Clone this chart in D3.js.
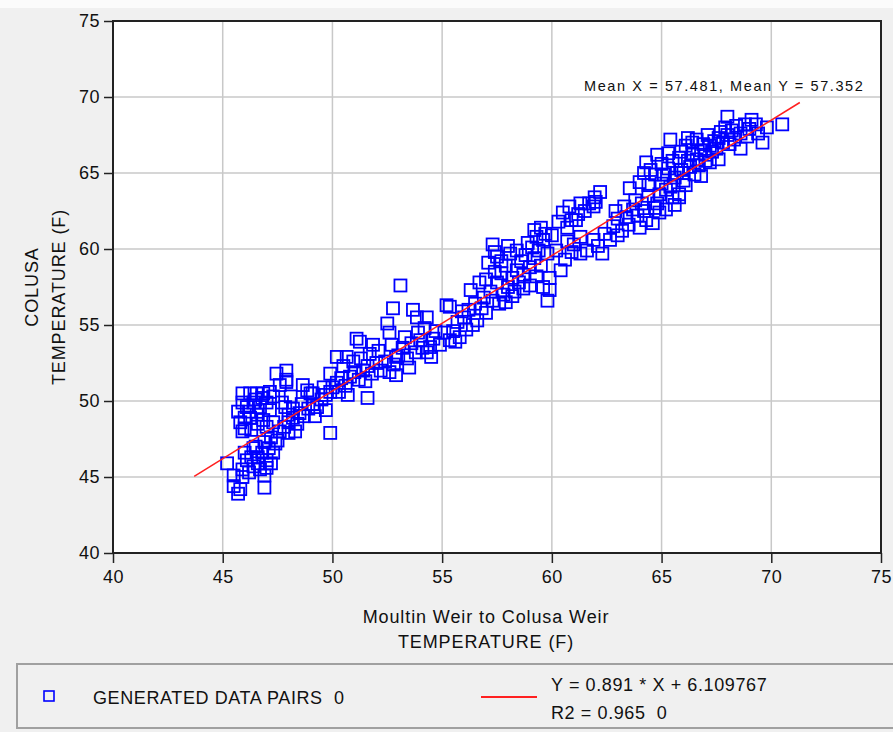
<!DOCTYPE html>
<html>
<head>
<meta charset="utf-8">
<script src="https://cdn.jsdelivr.net/npm/d3@7"></script>
<style>
  html, body { margin: 0; padding: 0; background: #f0f0f0; }
  svg { display: block; }
  text { font-family: "Liberation Sans", Arial, sans-serif; fill: #111; white-space: pre; }
</style>
</head>
<body>
<svg id="chart" width="893" height="732"></svg>
<script>
// ---- Data ----
const xTicks = [40, 45, 50, 55, 60, 65, 70, 75];
const yTicks = [40, 45, 50, 55, 60, 65, 70, 75];
const xTitle = ["Moultin Weir to Colusa Weir", "TEMPERATURE (F)"];
const yTitle = ["COLUSA", "TEMPERATURE (F)"];
const meanLabel = "Mean X = 57.481, Mean Y = 57.352";
const legendSeries = "GENERATED DATA PAIRS  0";
const legendFit = ["Y = 0.891 * X + 6.109767", "R2 = 0.965  0"];
const fitSlope = 0.891;
const fitIntercept = 6.109767;
const fitXRange = [43.7, 71.3];

const lowLeft = [[45.2,45.9],[45.5,44.4],[45.7,43.9],[45.8,44.2],[45.5,45.1],[45.9,45.5],[46.1,46.1],[46.4,45.7],[46.9,44.3],[46.9,45.1],[46.5,47.0],[46.8,46.6],[47.0,46.1],[47.2,45.9],[47.3,46.6],[47.4,47.2],[47.5,47.4],[47.6,48.0],[46.3,46.3],[46.6,46.3],[46.2,45.3],[46.7,45.5],[47.1,46.9],[46.0,46.6],[46.4,46.9],[47.2,47.6],[46.9,47.3],[46.6,45.9],[47.0,45.6],[45.9,45.0]];
const upperLeft = [[45.9,50.5],[46.25,50.5],[46.55,50.5],[46.85,50.5],[47.15,50.6],[45.9,49.9],[46.1,49.6],[46.4,49.9],[46.7,49.6],[47.0,49.9],[45.8,48.6],[46.0,48.9],[46.25,48.9],[46.55,49.1],[46.85,48.75],[46.0,48.2],[46.3,48.1],[47.45,51.8],[47.9,51.25],[47.6,51.05],[47.3,50.3],[47.15,49.4],[47.3,48.6],[47.85,49.6],[48.0,49.1],[45.7,49.3],[46.2,49.3],[46.6,48.5],[47.0,48.3],[46.5,50.1],[45.9,48.0],[46.8,50.2]];
const band48 = [[47.8,48.3],[48.0,48.6],[48.2,48.9],[48.4,48.5],[48.5,49.2],[48.7,49.0],[48.9,49.5],[49.1,49.8],[49.3,49.6],[49.5,50.1],[49.7,50.4],[49.9,50.6],[48.2,49.5],[48.6,49.8],[49.0,50.5],[48.65,51.05],[48.85,50.7],[49.1,50.5],[47.9,52.0],[47.9,51.4],[49.9,47.9],[49.7,49.4],[48.0,47.9],[48.3,48.0],[49.2,49.0],[49.6,50.9],[47.7,49.9],[48.1,50.3]];
const band50 = [[49.9,51.8],[50.2,51.2],[50.4,51.5],[50.6,51.0],[50.8,51.6],[51.0,51.9],[51.2,51.4],[51.4,52.0],[51.6,52.3],[51.8,51.8],[52.0,52.5],[52.2,52.0],[50.2,52.9],[50.65,52.9],[50.95,52.6],[50.3,50.6],[50.7,50.4],[51.1,54.1],[51.25,53.9],[51.85,53.7],[51.6,50.2],[51.3,52.8],[51.7,53.1],[52.1,53.3],[50.0,50.9],[50.5,52.3],[51.5,51.3],[52.4,52.6],[52.6,51.9],[52.9,51.7],[52.8,52.4]];
const band53 = [[52.76,56.1],[53.67,56.0],[53.85,55.5],[52.5,55.1],[52.6,54.5],[53.1,57.6],[54.3,55.5],[53.0,53.0],[53.2,53.5],[53.4,52.8],[53.6,53.8],[53.8,53.2],[54.0,54.0],[54.1,53.5],[54.3,53.2],[54.45,53.55],[54.6,54.1],[54.9,53.7],[53.3,54.2],[52.7,53.7],[53.5,52.2],[54.7,54.6],[54.2,54.8],[52.9,52.9],[53.9,54.5],[54.5,52.9]];
const band55 = [[55.2,56.3],[55.35,56.2],[55.35,54.0],[55.8,54.2],[56.1,54.7],[56.3,57.3],[55.5,54.6],[55.7,55.2],[56.0,55.5],[56.2,56.0],[56.5,56.4],[56.6,55.3],[56.7,57.8],[56.9,56.8],[55.1,54.5],[55.9,55.9],[56.4,55.0],[55.6,53.9],[56.8,56.1],[57.0,55.8]];
const band57 = [[57.0,58.0],[57.3,60.3],[57.4,59.8],[57.5,59.5],[57.6,56.4],[57.2,57.2],[57.5,57.8],[57.7,58.4],[57.9,58.9],[58.1,59.7],[58.4,59.9],[57.8,57.0],[58.0,57.5],[58.2,58.1],[58.4,58.6],[57.3,56.6],[57.9,56.5],[58.3,57.2],[58.5,57.8],[57.1,59.1],[57.7,59.2],[58.0,60.2],[58.6,59.2],[57.4,58.5],[58.2,56.9]];
const band59 = [[58.9,60.4],[59.3,60.8],[59.5,61.4],[59.2,61.25],[59.8,56.6],[59.6,57.5],[59.3,58.2],[58.7,58.3],[59.0,58.8],[59.2,59.4],[59.4,59.9],[59.6,60.6],[59.8,59.7],[59.9,58.1],[58.8,59.6],[59.0,57.6],[59.7,61.0],[59.1,60.1],[59.5,58.9],[58.7,57.4],[59.9,57.3],[60.0,60.9]];
const band61 = [[60.7,61.4],[61.1,61.9],[61.3,63.0],[61.95,63.4],[62.2,63.75],[61.7,63.0],[60.8,62.8],[60.5,62.4],[60.3,61.8],[61.5,62.5],[61.9,62.8],[62.0,63.1],[60.9,61.9],[61.2,62.3],[60.4,58.6],[61.3,60.8],[61.6,59.9],[61.3,59.7],[62.3,59.7],[61.9,60.6],[62.65,60.6],[60.6,59.3],[60.9,59.8],[61.0,60.3],[62.1,60.2],[62.4,61.0],[60.2,59.9],[60.7,60.5]];
const band63 = [[63.0,62.0],[63.4,62.1],[63.55,64.0],[63.7,62.6],[64.0,61.4],[64.3,61.9],[64.2,65.0],[64.3,65.7],[62.8,61.5],[63.2,61.2],[63.5,61.6],[63.9,62.2],[64.1,63.0],[64.4,63.5],[63.0,60.9],[62.9,62.5],[63.8,63.2],[64.2,62.5],[64.4,64.2],[63.3,62.8],[64.0,64.4],[64.5,65.2]];
const band65 = [[64.6,61.7],[64.9,62.4],[65.2,62.6],[65.5,63.4],[65.8,63.4],[65.8,63.6],[64.8,66.2],[65.4,67.2],[64.9,63.6],[65.0,64.3],[65.1,64.9],[65.3,65.3],[65.5,65.8],[65.6,64.7],[65.8,66.0],[65.9,65.2],[64.7,64.9],[64.8,63.0],[65.2,63.9],[65.4,64.1],[65.7,65.0],[65.9,66.4],[65.0,65.6],[65.3,66.3],[64.7,62.7],[65.6,62.9],[66.0,64.5]];
const band67 = [[66.4,67.0],[66.2,65.8],[66.4,66.3],[66.6,65.9],[66.8,66.5],[67.0,66.2],[67.2,66.8],[67.4,67.1],[67.6,67.3],[67.8,67.0],[68.0,67.5],[66.1,66.8],[66.3,65.4],[66.5,64.9],[66.7,65.5],[66.9,66.9],[67.1,67.5],[67.3,66.4],[67.5,66.6],[67.7,67.7],[67.9,68.0],[66.2,67.3],[66.6,67.2],[67.0,65.8],[66.0,65.0],[66.8,64.8],[67.2,65.7],[67.6,65.9],[66.1,64.2]];
const band69 = [[68.0,68.7],[69.1,68.5],[70.5,68.2],[69.8,68.0],[69.6,67.0],[68.6,66.6],[68.2,67.8],[68.4,68.1],[68.6,67.6],[68.8,68.2],[69.0,67.9],[69.3,68.2],[68.3,67.2],[68.9,67.4],[68.1,66.9],[69.4,67.6]];

const points = [].concat(lowLeft, upperLeft, band48, band50, band53, band55, band57, band59, band61, band63, band65, band67, band69);

// ---- Layout ----
const svg = d3.select("#chart");
const L = 113, T = 21, R = 881, B = 553;
const x = d3.scaleLinear().domain([40, 75]).range([L, R]);
const y = d3.scaleLinear().domain([40, 75]).range([B, T]);

svg.append("rect").attr("x", 0).attr("y", 0).attr("width", 893).attr("height", 8).attr("fill", "#fbfbfb");
svg.append("rect").attr("x", L).attr("y", T).attr("width", R - L).attr("height", B - T).attr("fill", "#ffffff");

// grid
const g = svg.append("g");
g.selectAll(".gx").data(xTicks.slice(1, -1)).join("line")
  .attr("x1", d => x(d)).attr("x2", d => x(d)).attr("y1", T).attr("y2", B)
  .attr("stroke", "#c8c8c8").attr("stroke-width", 1.5);
g.selectAll(".gy").data(yTicks.slice(1, -1)).join("line")
  .attr("y1", d => y(d)).attr("y2", d => y(d)).attr("x1", L).attr("x2", R)
  .attr("stroke", "#c8c8c8").attr("stroke-width", 1.5);

// axes
const xAxis = d3.axisBottom(x).tickValues(xTicks).tickSize(10).tickPadding(7).tickFormat(d3.format("d"));
const yAxis = d3.axisLeft(y).tickValues(yTicks).tickSize(9).tickPadding(4).tickFormat(d3.format("d"));
const gx = svg.append("g").attr("transform", `translate(0,${B})`).call(xAxis);
const gy = svg.append("g").attr("transform", `translate(${L},0)`).call(yAxis);
[gx, gy].forEach(a => {
  a.select(".domain").remove();
  a.selectAll(".tick line").attr("stroke", "#222").attr("stroke-width", 1.5);
  a.selectAll(".tick text").attr("fill", "#111").style("font-size", "18px")
    .style("font-family", '"Liberation Sans", Arial, sans-serif').style("letter-spacing", "0.5px");
});

// plot border
svg.append("rect").attr("x", L).attr("y", T).attr("width", R - L).attr("height", B - T)
  .attr("fill", "none").attr("stroke", "#222").attr("stroke-width", 2);

// points
const clipId = "plotclip";
svg.append("clipPath").attr("id", clipId).append("rect").attr("x", L).attr("y", T).attr("width", R - L).attr("height", B - T);
const S = 12;
svg.append("g").attr("clip-path", `url(#${clipId})`).selectAll("rect").data(points).join("rect")
  .attr("x", d => x(d[0]) - S / 2).attr("y", d => y(d[1]) - S / 2)
  .attr("width", S).attr("height", S)
  .attr("fill", "none").attr("stroke", "#0000ff").attr("stroke-width", 1.8);

// regression line
const line = d3.line().x(d => x(d)).y(d => y(fitSlope * d + fitIntercept));
svg.append("path").datum(fitXRange).attr("d", line)
  .attr("fill", "none").attr("stroke", "#ff2020").attr("stroke-width", 1.5);

// mean label
svg.append("text").attr("x", 584).attr("y", 91).text(meanLabel)
  .style("font-size", "14.5px").style("letter-spacing", "1.6px");

// axis titles
svg.append("text").attr("x", 486).attr("y", 623).attr("text-anchor", "middle").text(xTitle[0])
  .style("font-size", "18px").style("letter-spacing", "0.9px");
svg.append("text").attr("x", 486).attr("y", 648).attr("text-anchor", "middle").text(xTitle[1])
  .style("font-size", "18px").style("letter-spacing", "0.9px");
svg.append("text").attr("transform", "translate(38,287) rotate(-90)").attr("text-anchor", "middle").text(yTitle[0])
  .style("font-size", "18px").style("letter-spacing", "0.9px");
svg.append("text").attr("transform", "translate(65,297) rotate(-90)").attr("text-anchor", "middle").text(yTitle[1])
  .style("font-size", "18px").style("letter-spacing", "0.9px");

// legend
const lg = svg.append("g");
lg.append("rect").attr("x", 17).attr("y", 664).attr("width", 890).attr("height", 64)
  .attr("fill", "#f0f0f0").attr("stroke", "#a0a0a0").attr("stroke-width", 2);
lg.append("rect").attr("x", 44).attr("y", 691).attr("width", 10).attr("height", 10)
  .attr("fill", "none").attr("stroke", "#0000ff").attr("stroke-width", 1.6);
lg.append("text").attr("x", 93).attr("y", 704).attr("xml:space", "preserve").text(legendSeries)
  .style("font-size", "18px").style("letter-spacing", "0.6px");
lg.append("line").attr("x1", 481).attr("x2", 537).attr("y1", 697).attr("y2", 697)
  .attr("stroke", "#ff2020").attr("stroke-width", 2);
lg.append("text").attr("x", 551).attr("y", 691).attr("xml:space", "preserve").text(legendFit[0])
  .style("font-size", "18px").style("letter-spacing", "0.6px");
lg.append("text").attr("x", 551).attr("y", 719).attr("xml:space", "preserve").text(legendFit[1])
  .style("font-size", "18px").style("letter-spacing", "0.6px");
</script>
</body>
</html>
